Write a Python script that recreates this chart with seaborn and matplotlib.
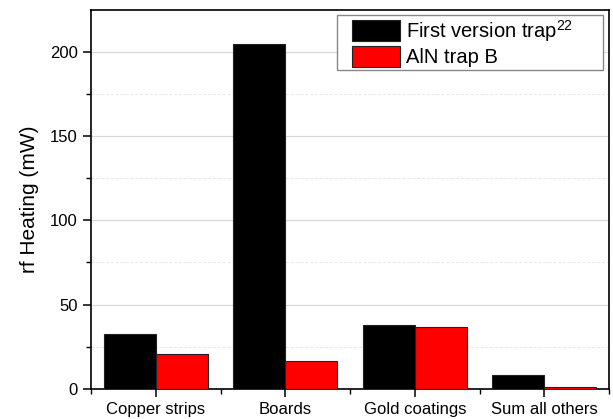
import matplotlib
matplotlib.use("Agg")
import matplotlib.pyplot as plt
from matplotlib.ticker import MultipleLocator, FixedLocator
from matplotlib.patches import Rectangle
from matplotlib.legend_handler import HandlerPatch
import seaborn as sns
import pandas as pd

categories = ["Copper strips", "Boards", "Gold coatings", "Sum all others"]
first_version = [32.5, 204.5, 38.0, 8.5]
aln_trap_b = [21.0, 16.5, 37.0, 1.0]
series_names = ["First version trap$^{22}$", "AlN trap B"]

df = pd.DataFrame({
    "component": categories * 2,
    "heating": first_version + aln_trap_b,
    "trap": [series_names[0]] * 4 + [series_names[1]] * 4,
})

sns.set_style("white")
plt.rcParams["font.family"] = ["Liberation Sans", "DejaVu Sans"]
plt.rcParams["mathtext.fontset"] = "custom"
plt.rcParams["mathtext.rm"] = "Liberation Sans"
plt.rcParams["mathtext.it"] = "Liberation Sans"
plt.rcParams["text.color"] = "black"
plt.rcParams["axes.labelcolor"] = "black"
plt.rcParams["xtick.color"] = "black"
plt.rcParams["ytick.color"] = "black"

fig = plt.figure(figsize=(6.13, 4.19), dpi=100)
ax = fig.add_axes([0.1485, 0.0716, 0.845, 0.9045])

sns.barplot(data=df, x="component", y="heating", hue="trap",
            palette=["#000000", "#ff0000"], width=0.8, saturation=1,
            edgecolor="#222222", linewidth=0.8, ax=ax, zorder=3)

ax.set_xlim(-0.5, 3.5)
ax.set_ylim(0, 224.6)
ax.yaxis.set_major_locator(MultipleLocator(50))
ax.yaxis.set_minor_locator(MultipleLocator(25))
ax.xaxis.set_minor_locator(FixedLocator([-0.5, 0.5, 1.5, 2.5, 3.5]))

ax.grid(which="major", axis="y", color="#d9d9d9", linewidth=0.9, linestyle="-", zorder=0)
ax.grid(which="minor", axis="y", color="#e6e6e6", linewidth=0.7, linestyle=(0, (3, 2)), zorder=0)
ax.grid(which="both", axis="x", visible=False)
ax.set_axisbelow(True)

for s in ax.spines.values():
    s.set_color("black")
    s.set_linewidth(1.2)

ax.tick_params(axis="both", which="major", direction="out", length=6, width=1.1,
               labelsize=12, colors="black", left=True, bottom=True, right=False, top=False)
ax.tick_params(axis="both", which="minor", direction="out", length=3.5, width=1.0,
               colors="black", left=True, bottom=True, right=False, top=False)

ax.set_xlabel("")
ax.set_ylabel("rf Heating (mW)", fontsize=15, labelpad=8, color="black")


def inset_swatch(legend, orig_handle, xdescent, ydescent, width, height, fontsize):
    # swatch of fixed width, pushed to the right end of the handle box
    swatch_w = 2.38 * fontsize
    gap = width - swatch_w
    return Rectangle((-xdescent + gap, -ydescent), swatch_w, height)


handles, labels = ax.get_legend_handles_labels()
ax.get_legend().remove()
ax.legend(handles, labels, loc="upper right", mode="expand",
          bbox_to_anchor=(0.475, 0.6, 0.5135, 0.387),
          handler_map={h: HandlerPatch(patch_func=inset_swatch) for h in handles},
          fontsize=14.5, frameon=True, fancybox=False,
          edgecolor="#888888", framealpha=1, borderpad=0.15, labelspacing=0.1,
          handlelength=2.95, handleheight=1.23, handletextpad=0.3,
          borderaxespad=0, title=None)

fig.savefig("out.png", dpi=100)
